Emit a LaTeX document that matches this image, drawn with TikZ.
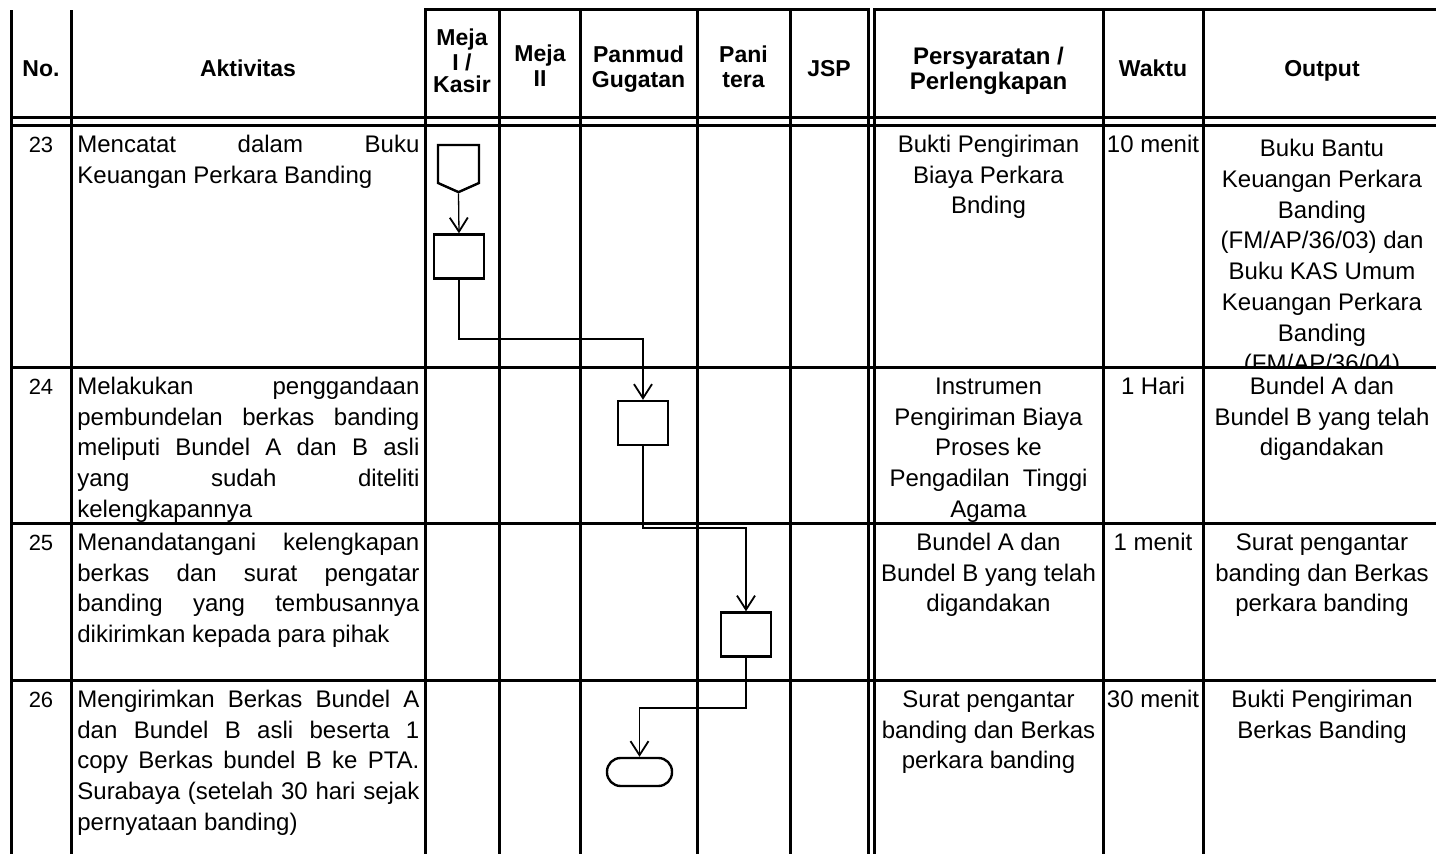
\documentclass[tikz,border=0pt]{standalone}
\usepackage{fontspec}
\setmainfont{Liberation Sans}
\usepackage{tikz}
\usetikzlibrary{shapes.geometric, shapes.symbols, arrows.meta, positioning}
\tikzstyle{tabline} = [line width=1.5pt, line cap=rect]
\tikzstyle{proc} = [rectangle, draw, line width=1.2pt, minimum width=25pt, minimum height=22pt]
\tikzstyle{offpage} = [signal, signal to=south, signal pointer angle=132, draw, line width=1.2pt, minimum width=20.5pt, minimum height=19pt, inner sep=0pt]
\tikzstyle{term} = [rectangle, rounded corners=6.8pt, draw, line width=1.2pt, minimum width=32.5pt, minimum height=14pt]
\tikzstyle{flow} = [line width=0.65pt, -{Straight Barb[length=7pt,width=9pt,line width=0.9pt]}]
\tikzstyle{head} = [anchor=north, inner sep=0pt, align=center, font=\fontsize{11.5}{12.5}\selectfont\bfseries]
\tikzstyle{act} = [anchor=north west, inner sep=0pt, text width=171pt, align=justify, font=\fontsize{12}{15.35}\selectfont]
\tikzstyle{cell} = [anchor=north, inner sep=0pt, align=center, font=\fontsize{12}{15.35}\selectfont]
\tikzstyle{num} = [anchor=north, inner sep=0pt, font=\fontsize{11}{15.35}\selectfont]
\begin{document}
\begin{tikzpicture}[x=0.5pt, y=-0.5pt]
\useasboundingbox (0,0) rectangle (1436,854);

\node (h1) [head] at (41,58.5) {\strut No.};
\node (h2) [head] at (248,58.5) {\strut Aktivitas};
\node (h3) [head, font=\fontsize{11.5}{11}\selectfont\bfseries] at (462,28.5) {\strut Meja\\I /\\Kasir};
\node (h4) [head] at (540,44) {\strut Meja\\II};
\node (h5) [head] at (638.5,45) {\strut Panmud\\Gugatan};
\node (h6) [head] at (743.5,45) {\strut Pani\\tera};
\node (h7) [head] at (829,58.5) {\strut JSP};
\node (h8) [head, font=\fontsize{12}{12.8}\selectfont\bfseries] at (988.5,46) {\strut Persyaratan /\\Perlengkapan};
\node (h9) [head] at (1153,58.5) {\strut Waktu};
\node (h10) [head] at (1322,58.5) {\strut Output};

\node (n23) [num] at (41,130.5) {\strut 23};
\node (n24) [num] at (41,372.5) {\strut 24};
\node (n25) [num] at (41,528.5) {\strut 25};
\node (n26) [num] at (41,685.5) {\strut 26};

\node (a23) [act] at (77,130.5) {\strut Mencatat dalam Buku\linebreak Keuangan Perkara Banding};
\node (a24) [act] at (77,372.5) {\strut Melakukan penggandaan\linebreak pembundelan berkas banding\linebreak meliputi Bundel A dan B asli\linebreak yang sudah diteliti\linebreak kelengkapannya};
\node (a25) [act] at (77,528.5) {\strut Menandatangani kelengkapan\linebreak berkas dan surat pengatar\linebreak banding yang tembusannya\linebreak dikirimkan kepada para pihak};
\node (a26) [act] at (77,685.5) {\strut Mengirimkan Berkas Bundel A\linebreak dan Bundel B asli beserta 1\linebreak copy Berkas bundel B ke PTA.\linebreak Surabaya (setelah 30 hari sejak\linebreak pernyataan banding)};

\node (q23) [cell] at (988.5,130.5) {\strut Bukti Pengiriman\\Biaya Perkara\\Bnding};
\node (q24) [cell] at (988.5,372.5) {\strut Instrumen\\Pengiriman Biaya\\Proses ke\\Pengadilan\ \ Tinggi\\Agama};
\node (q25) [cell] at (988.5,528.5) {\strut Bundel A dan\\Bundel B yang telah\\digandakan};
\node (q26) [cell] at (988.5,685.5) {\strut Surat pengantar\\banding dan Berkas\\perkara banding};

\node (w23) [cell] at (1153,130.5) {\strut 10 menit};
\node (w24) [cell] at (1153,372.5) {\strut 1 Hari};
\node (w25) [cell] at (1153,528.5) {\strut 1 menit};
\node (w26) [cell] at (1153,685.5) {\strut 30 menit};

\begin{scope}
\clip (1203,126) rectangle (1436,368);
\node (o23) [cell] at (1322,135) {\strut Buku Bantu\\Keuangan Perkara\\Banding\\(FM/AP/36/03) dan\\Buku KAS Umum\\Keuangan Perkara\\Banding\\(FM/AP/36/04)};
\end{scope}
\node (o24) [cell] at (1322,372.5) {\strut Bundel A dan\\Bundel B yang telah\\digandakan};
\node (o25) [cell] at (1322,528.5) {\strut Surat pengantar\\banding dan Berkas\\perkara banding};
\node (o26) [cell] at (1322,685.5) {\strut Bukti Pengiriman\\Berkas Banding};

\draw[tabline] (11,12) -- (11,854);
\draw[tabline] (71,12) -- (71,854);
\foreach \x in {425,499,580,697,790,868,874,1103,1203}
  \draw[tabline] (\x,10) -- (\x,854);
\draw[tabline] (425,10) -- (868,10);
\draw[tabline] (874,10) -- (1436,10);
\foreach \y in {118,126,368,524,681}
  \draw[tabline] (11,\y) -- (1436,\y);

\node (s1) [offpage] at (458.5,164) {};
\node (p23) [proc] at (459,256.5) {};
\node (p24) [proc] at (643,423) {};
\node (p25) [proc] at (746,634.5) {};
\node (e26) [term] at (639.5,772) {};

\draw[flow] (s1.south) -- (p23.north);
\draw[flow] (p23.south) |- (p24.north |- 0,339) -- (p24.north);
\draw[flow] (p24.south) |- (p25.north |- 0,528) -- (p25.north);
\draw[flow] (p25.south) |- (e26.north |- 0,708) -- (e26.north);
\end{tikzpicture}
\end{document}
